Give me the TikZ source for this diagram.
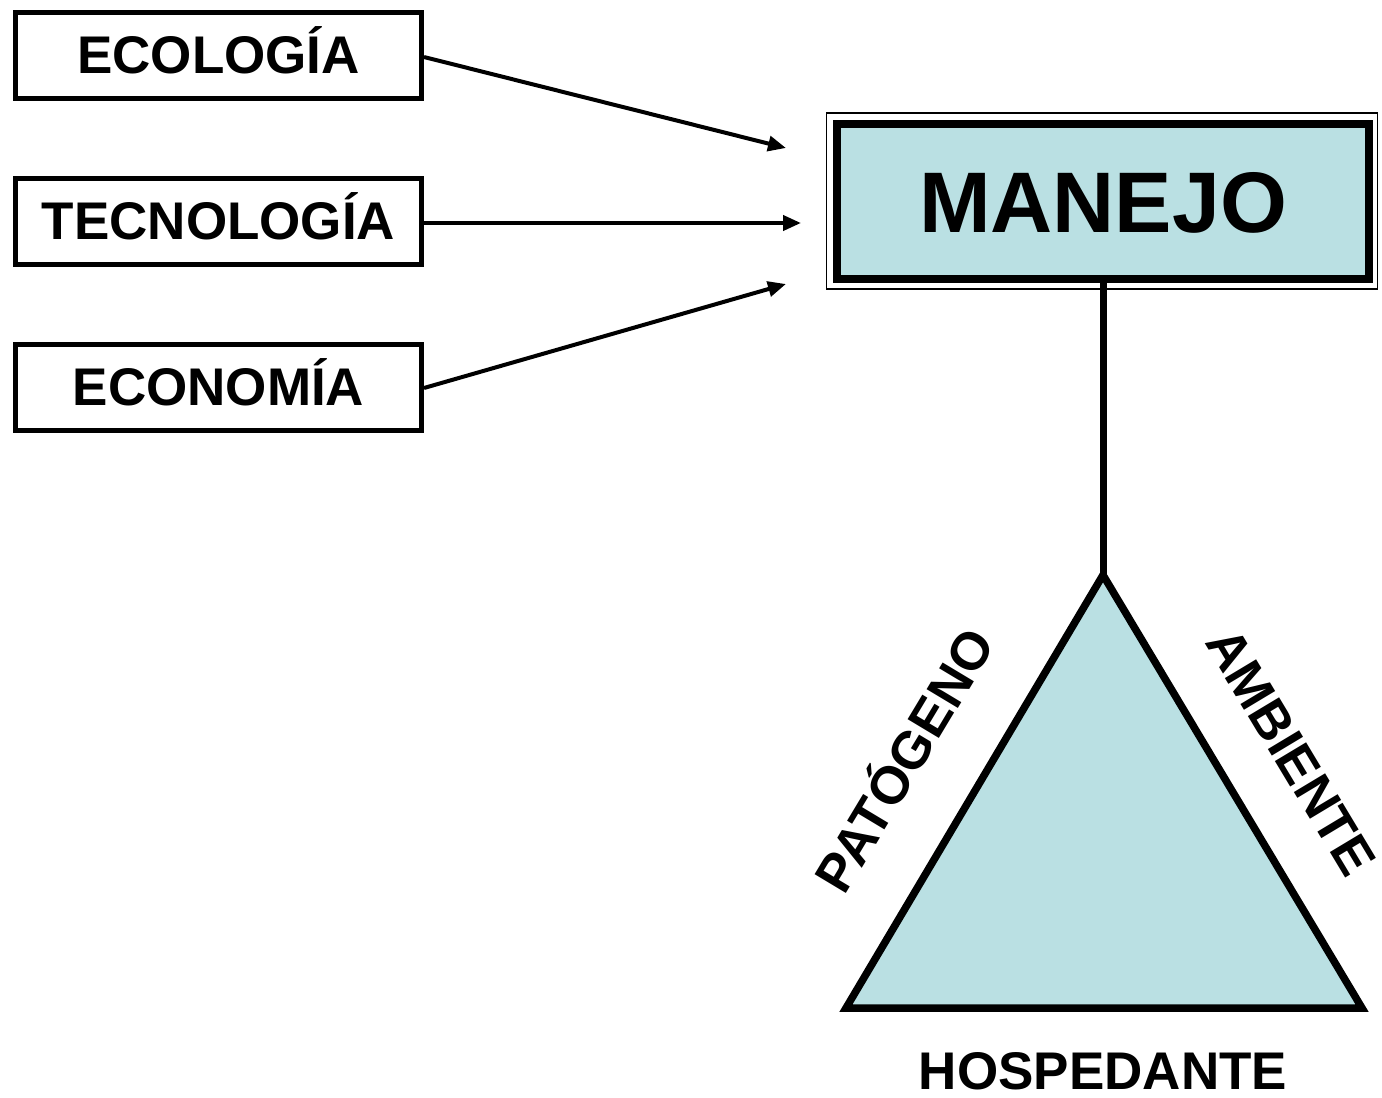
\documentclass[tikz,border=0pt]{standalone}
\usepackage{fontspec}
\setmainfont{Liberation Sans}
\usetikzlibrary{arrows.meta}
\definecolor{tri}{RGB}{186,224,227}
\begin{document}
\begin{tikzpicture}[x=1pt,y=-1pt,
  lbl/.style={font=\fontsize{53}{60}\selectfont\bfseries, inner sep=0pt},
  sbox/.style={draw, line width=5pt, minimum width=406pt, minimum height=86pt, inner sep=0pt},
  arr/.style={line width=4pt, -{Triangle[length=18pt,width=15pt]}}]
\useasboundingbox (0,0) rectangle (1382,1098);
% left boxes
\node[sbox] (eco) at (218.5,55.5) {};
\node[lbl] at ([yshift=5pt]eco) {ECOLOGÍA};
\node[sbox] (tec) at (218.5,221.5) {};
\node[lbl] at ([yshift=5pt]tec) {TECNOLOGÍA};
\node[sbox] (econ) at (218.5,387.5) {};
\node[lbl] at ([yshift=5pt]econ) {ECONOMÍA};
% MANEJO box
\draw[line width=1.5pt] (826.5,113) rectangle (1377.5,289);
\node[draw, fill=tri, line width=8pt, minimum width=532pt, minimum height=155pt, inner sep=0pt] (man) at (1103,201) {};
\node[font=\fontsize{86}{96}\selectfont\bfseries, inner sep=0pt] at (1103,203) {MANEJO};
% arrows
\coordinate (t1) at (786,148);
\coordinate (t2) at (801,223);
\coordinate (t3) at (786,284);
\draw[arr] (eco.east |- 0,57) -- (t1);
\draw[arr] (tec.east |- 0,223) -- (t2);
\draw[arr] (econ.east |- 0,388) -- (t3);
% triangle
\coordinate (apex) at (1103,575);
\coordinate (bl) at (846,1008);
\coordinate (br) at (1362,1008);
\draw[line width=7.5pt, line join=miter, fill=tri] (apex) -- (bl) -- (br) -- cycle;
\draw[line width=7pt] (man.south) -- (apex);
% labels
\node[lbl, rotate=59] at (901,758) {PATÓGENO};
\node[lbl, rotate=-59] at (1291,752) {AMBIENTE};
\node[lbl] at (1103,1071) {HOSPEDANTE};
\end{tikzpicture}
\end{document}
